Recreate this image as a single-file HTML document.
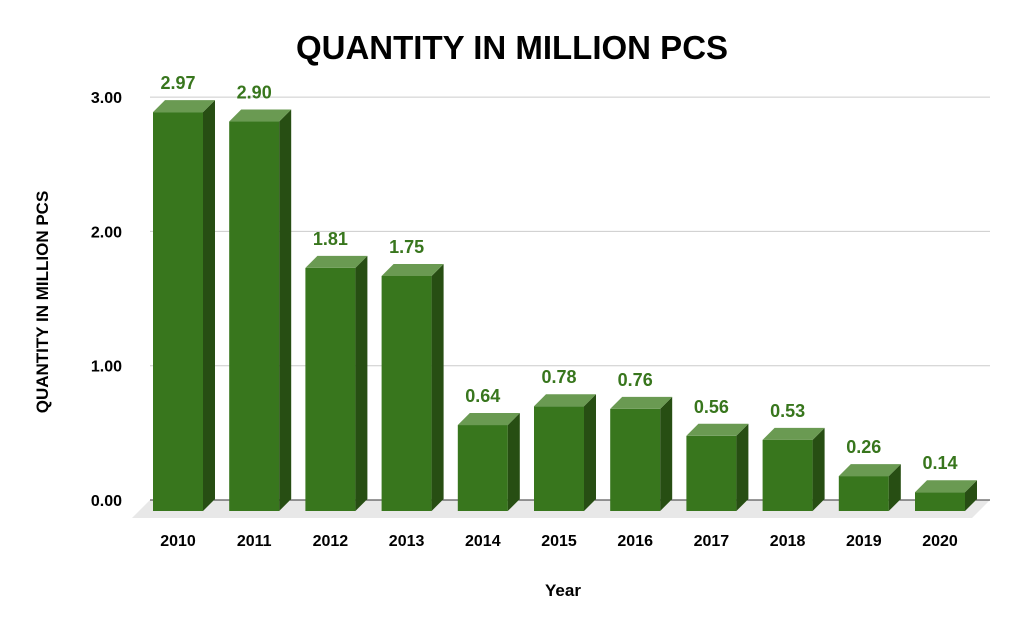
<!DOCTYPE html>
<html><head><meta charset="utf-8"><style>
body{margin:0;background:#fff;font-family:"Liberation Sans",Arial,sans-serif}
</style></head><body>
<svg width="1024" height="632" viewBox="0 0 1024 632" font-family="Liberation Sans, Arial, sans-serif">
<text x="512" y="59" text-anchor="middle" font-size="33" font-weight="bold" fill="#000">QUANTITY IN MILLION PCS</text>
<text transform="translate(48,302) rotate(-90)" text-anchor="middle" font-size="17" font-weight="bold">QUANTITY IN MILLION PCS</text>
<text x="563" y="596" text-anchor="middle" font-size="17" font-weight="bold">Year</text>
<polygon points="150,500 990,500 972,518 132,518" fill="#e8e8e8"/>
<g id="grid"></g>
<g id="bars"></g>
</svg>
<script>
const categories=["2010","2011","2012","2013","2014","2015","2016","2017","2018","2019","2020"];
const values=[2.97,2.90,1.81,1.75,0.64,0.78,0.76,0.56,0.53,0.26,0.14];
const tickValues=[0,1,2,3];
const tickLabels=["0.00","1.00","2.00","3.00"];
const NS="http://www.w3.org/2000/svg";
function mk(t,a,p){const e=document.createElementNS(NS,t);for(const k in a)e.setAttribute(k,a[k]);p.appendChild(e);return e;}
const gridY=v=>500-v*134.3;
const barY=v=>511-v*134.3;
const xC=i=>178+i*76.2;
const grid=document.getElementById('grid'),bars=document.getElementById('bars');
tickValues.forEach((v,i)=>{
  const l=mk('line',{x1:150,x2:990,y1:gridY(v),y2:gridY(v),stroke:v===0?'#333':'#ccc','stroke-width':1},grid);
  
  
  const t=mk('text',{x:122,y:gridY(v)+6,'text-anchor':'end','font-size':16,'font-weight':'bold'},grid);
  t.textContent=tickLabels[i];
  
  
});
values.forEach((v,i)=>{
  const x=xC(i)-25,w=50,d=12,y=barY(v),b=511;
  const g=mk('g',{},bars);
  
  
  mk('rect',{x:x,y:y,width:w,height:b-y,fill:'#38761d'},g);
  mk('polygon',{points:`${x+w},${y} ${x+w+d},${y-d} ${x+w+d},${b-d} ${x+w},${b}`,fill:'#274e13'},g);
  mk('polygon',{points:`${x},${y} ${x+d},${y-d} ${x+w+d},${y-d} ${x+w},${y}`,fill:'#6a9a52'},g);
  const vl=mk('text',{x:xC(i),y:y-d-11,'text-anchor':'middle','font-size':18,'font-weight':'bold',fill:'#38761d'},bars);
  vl.textContent=v.toFixed(2);
  
  
  const xl=mk('text',{x:xC(i),y:546,'text-anchor':'middle','font-size':16,'font-weight':'bold'},bars);
  xl.textContent=categories[i];
  
  
});
</script>
</body></html>
